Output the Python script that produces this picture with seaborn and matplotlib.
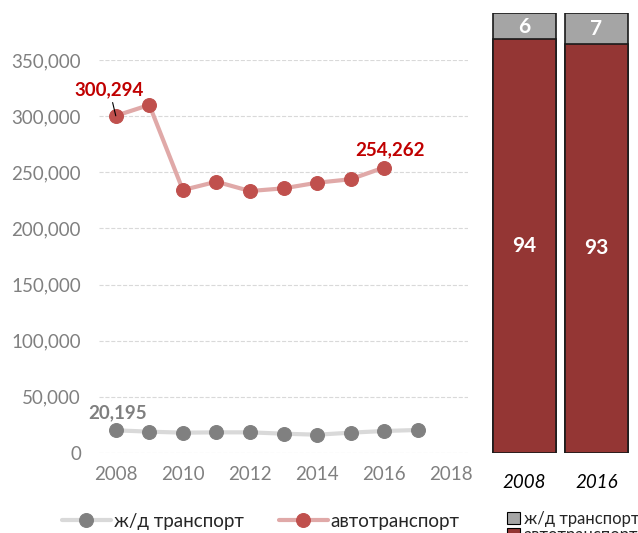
import numpy as np
import pandas as pd
import seaborn as sns
import matplotlib.pyplot as plt
from matplotlib.patches import Patch

# Data
years = list(range(2008, 2018))
rail = [20195, 19000, 18100, 18400, 18400, 17200, 16300, 18100, 19600, 20500]
auto = [300294, 310000, 234200, 241600, 233300, 235700, 240700, 243800, 254262, np.nan]

share_years = ["2008", "2016"]
share_rail = [6, 7]
share_auto = [94, 93]

yticks = [0, 50000, 100000, 150000, 200000, 250000, 300000, 350000]
xticks = [2008, 2010, 2012, 2014, 2016, 2018]

RED_LINE, RED_DOT, RED_TXT = "#E0A9A8", "#C0504D", "#C00000"
GRAY_LINE, GRAY_DOT, GRAY_TXT = "#D9D9D9", "#808080", "#7F7F7F"
BAR_RED, BAR_GRAY = "#943634", "#A5A5A5"

df = pd.DataFrame({"year": years, "rail": rail, "auto": auto})

sns.set_theme(style="white")
plt.rcParams["font.family"] = ["Lato", "DejaVu Sans"]

fig = plt.figure(figsize=(6.38, 5.33), dpi=100)

# ---- left: line chart
ax = fig.add_axes([99 / 638, 80 / 533, 369 / 638, 393 / 533])
sns.lineplot(data=df, x="year", y="rail", ax=ax, color=GRAY_LINE, lw=3,
             marker="o", markersize=10, markerfacecolor=GRAY_DOT,
             markeredgecolor=GRAY_DOT, label="ж/д транспорт")
sns.lineplot(data=df.dropna(), x="year", y="auto", ax=ax, color=RED_LINE, lw=3,
             marker="o", markersize=10, markerfacecolor=RED_DOT,
             markeredgecolor=RED_DOT, label="автотранспорт")

ax.set_xlim(2007.5, 2018.5)
ax.set_ylim(0, 350000)
ax.set_yticks(yticks)
ax.set_yticklabels([f"{v:,}" for v in yticks])
ax.set_xticks(xticks)
ax.set_xlabel("")
ax.set_ylabel("")
ax.yaxis.grid(True, ls="--", color="#D9D9D9", lw=0.8)
ax.set_axisbelow(True)
for s in ax.spines.values():
    s.set_visible(False)
ax.tick_params(axis="both", length=0, labelsize=13.5, colors=GRAY_DOT)
ax.tick_params(axis="y", pad=13)
ax.tick_params(axis="x", pad=9)

ax.annotate(f"{auto[0]:,.0f}", xy=(years[0], auto[0]), xytext=(-4.5, 19),
            textcoords="offset points", ha="center", va="center",
            fontsize=13.5, fontweight="bold", color=RED_TXT,
            arrowprops=dict(arrowstyle="-", color="black", lw=0.8,
                            shrinkA=1, shrinkB=0))
ax.annotate(f"{auto[8]:,.0f}", xy=(years[8], auto[8]), xytext=(4.5, 13),
            textcoords="offset points", ha="center", va="center",
            fontsize=13.5, fontweight="bold", color=RED_TXT)
ax.annotate(f"{rail[0]:,}", xy=(years[0], rail[0]), xytext=(1, 13),
            textcoords="offset points", ha="center", va="center",
            fontsize=13.5, fontweight="bold", color=GRAY_TXT)

leg = ax.legend(loc="center left", bbox_to_anchor=(-99 / 369 + 62 / 369, -68 / 393),
                ncol=2, frameon=False, fontsize=13.5, handlelength=2.6,
                columnspacing=1.9, handletextpad=0.15, borderaxespad=0, borderpad=0)

# ---- right: 100% stacked bars
bx = fig.add_axes([488.2 / 638, 80 / 533, 144.4 / 638, 440 / 533])
sns.barplot(x=share_years, y=[r + a for r, a in zip(share_rail, share_auto)],
            ax=bx, color=BAR_GRAY, width=0.877, edgecolor="#1a1a1a", linewidth=1.2,
            saturation=1)
sns.barplot(x=share_years, y=share_auto, ax=bx, color=BAR_RED, width=0.877,
            edgecolor="#1a1a1a", linewidth=1.2, saturation=1)
bx.set_xlim(-0.5, 1.5)
bx.set_ylim(0, 100)
bx.set_yticks([])
bx.set_xlabel("")
bx.set_ylabel("")
for s in bx.spines.values():
    s.set_visible(False)
bx.tick_params(axis="x", length=0, labelsize=13.5, pad=15, colors="black")
for t in bx.get_xticklabels():
    t.set_fontstyle("italic")

for i in range(len(share_years)):
    bx.text(i, share_auto[i] / 2, str(share_auto[i]), ha="center", va="center",
            color="white", fontsize=15, fontweight="bold")
    bx.text(i, share_auto[i] + share_rail[i] / 2 - 0.2, str(share_rail[i]),
            ha="center", va="center", color="white", fontsize=15, fontweight="bold")

handles = [Patch(facecolor=BAR_GRAY, edgecolor="black", lw=0.8),
           Patch(facecolor=BAR_RED, edgecolor="black", lw=0.8)]
fig.legend(handles, ["ж/д транспорт", "автотранспорт"], loc="upper left",
           bbox_to_anchor=(507 / 638, 1 - 511 / 533), frameon=False,
           fontsize=12, handlelength=0.75, handleheight=0.75,
           handletextpad=0.25, labelspacing=0.02, borderaxespad=0, borderpad=0)

fig.savefig("out.png", dpi=100)
